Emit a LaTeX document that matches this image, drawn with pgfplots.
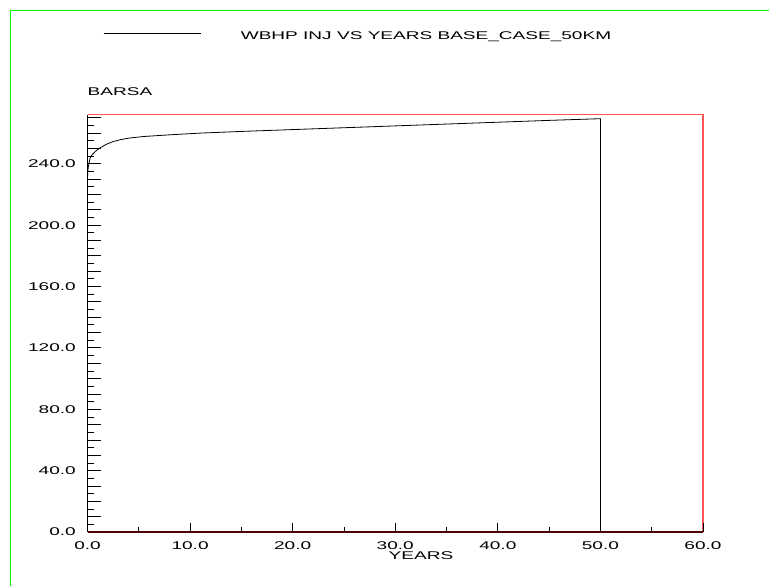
\documentclass[border=0pt]{standalone}
\usepackage{pgfplots}
\pgfplotsset{compat=1.18}
\usepackage{fontspec}
\setmainfont[FakeStretch=1.7]{Liberation Sans}
\definecolor{framegreen}{RGB}{0,255,0}
\definecolor{boxred}{RGB}{255,85,85}
\definecolor{axisdark}{RGB}{80,0,0}

\begin{document}
\begin{tikzpicture}[font=\fontsize{11.2pt}{13pt}\selectfont]
\useasboundingbox (0,0) rectangle (769pt,-586pt);
\draw[framegreen, line width=1pt] (10pt,-586pt) -- (10pt,-10.5pt) -- (769pt,-10.5pt);
\pgfplotsset{
  common/.style={
    at={(87.5pt,-532pt)}, anchor=south west,
    scale only axis, width=615.5pt, height=417.3pt,
    xmin=0, xmax=60, ymin=0, ymax=272,
    axis line style={draw=none},
    tick align=inside,
    xtick pos=bottom, ytick pos=left,
    tick style={black, line width=0.8pt},
    clip=false,
  }
}
% pressure axis, curve and legend
\begin{axis}[common,
  xtick=\empty,
  ytick={0,10,...,270},
  yticklabels={0.0,,,,40.0,,,,80.0,,,,120.0,,,,160.0,,,,200.0,,,,240.0,,,},
  minor y tick num=1,
  major tick length=13pt, minor tick length=6pt,
  yticklabel style={inner sep=0pt, anchor=east},
  yticklabel shift=11.5pt,
  ylabel={BARSA},
  every axis y label/.style={at={(rel axis cs:0,1.0544)}, anchor=west, inner sep=0pt},
  legend style={at={(rel axis cs:0.0252,1.1886)}, anchor=west, draw=none, fill=none,
    inner sep=0pt, column sep=40pt, nodes={inner sep=0pt}},
  legend image code/.code={\draw[black, line width=0.6pt] (0pt,3pt) -- (97pt,3pt);},
]
\addplot[black, line width=0.8pt] coordinates {
  (0,231) (0.03,235) (0.08,238) (0.15,240.5) (0.25,243.5) (0.4,245.5)
  (0.6,247) (0.9,248.8) (1.2,250.2) (1.8,252.6) (2.5,254.5) (3.2,255.7)
  (4.1,256.8) (5.5,257.8) (8.3,259) (11,260) (15,261.1) (20,262.3)
  (25,263.5) (30,264.7) (35,265.9) (40,267.1) (45,268.3) (50,269.4) (50,0)
};
\addlegendentry{WBHP INJ VS YEARS BASE\_CASE\_50KM}
\draw[boxred, line width=1.5pt] (rel axis cs:0,1) -- (rel axis cs:1,1) -- (rel axis cs:1,0);
\draw[black, line width=1pt] (rel axis cs:0,1) -- (rel axis cs:0,0);
\draw[axisdark, line width=1.2pt] (rel axis cs:0,0) -- (rel axis cs:1,0);
\end{axis}
% time axis
\begin{axis}[common,
  ytick=\empty,
  xtick={0,10,...,60},
  xticklabels={0.0,10.0,20.0,30.0,40.0,50.0,60.0},
  minor x tick num=1,
  major tick length=9pt, minor tick length=5pt,
  xticklabel style={inner sep=0pt, anchor=north},
  xticklabel shift=9.5pt,
  xlabel={YEARS},
  every axis x label/.style={at={(rel axis cs:0.5418,-0.0575)}, anchor=center, inner sep=0pt},
]
\end{axis}
\end{tikzpicture}
\end{document}
